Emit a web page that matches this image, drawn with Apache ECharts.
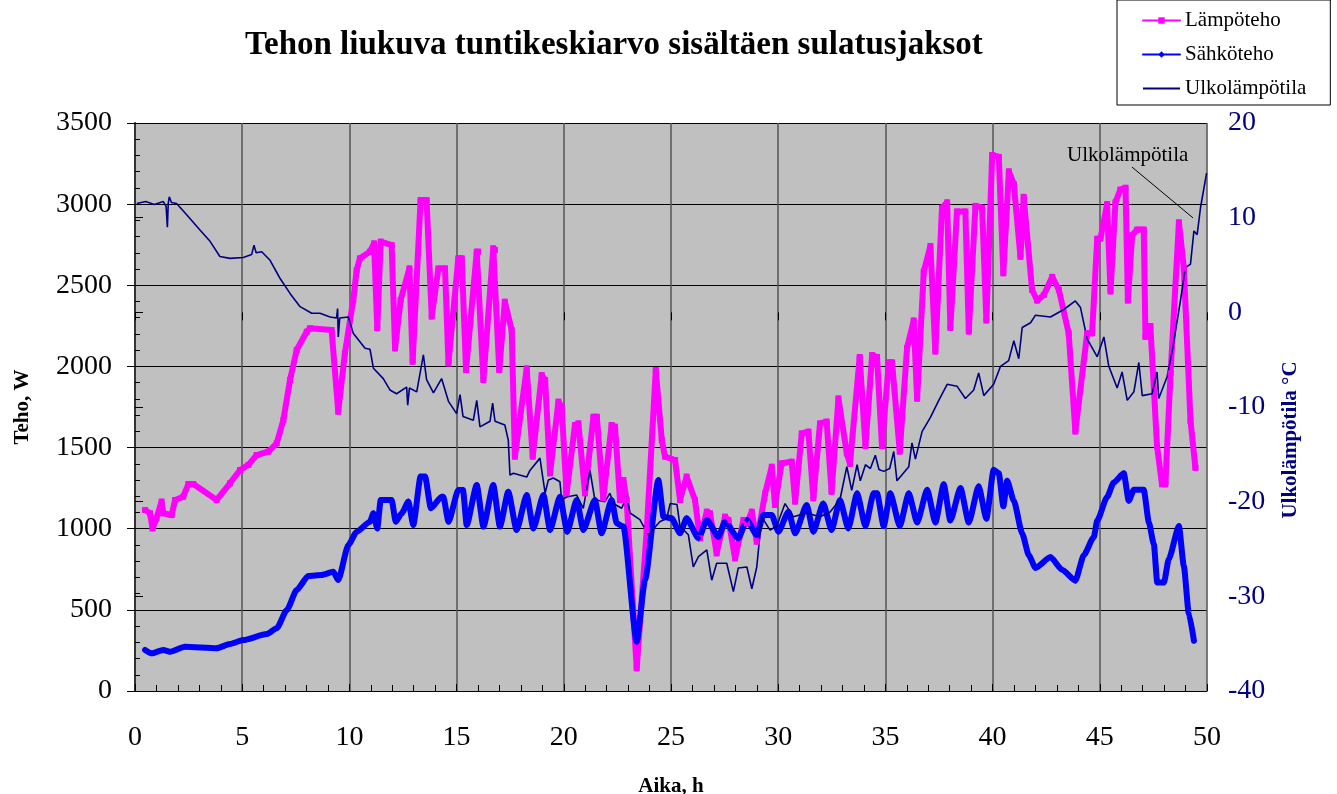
<!DOCTYPE html>
<html>
<head>
<meta charset="utf-8">
<title>Tehon liukuva tuntikeskiarvo</title>
<script src="https://cdn.jsdelivr.net/npm/echarts@6/dist/echarts.min.js"></script>
<style>
  html, body { margin: 0; padding: 0; background: #fff; }
  #chart { width: 1337px; height: 794px; }
</style>
</head>
<body>
<div id="chart"></div>
<script>
// Lämpöteho [h, W]
const lampoteho = [
  [0.47,1115],[0.7,1095],[0.82,1002],[1.0,1064],[1.24,1167],[1.32,1095],[1.71,1084],[1.87,1177],
  [2.25,1197],[2.49,1275],[2.72,1275],[3.81,1177],[4.43,1280],[4.9,1362],[5.29,1393],[5.67,1454],
  [6.22,1475],[6.61,1526],[6.92,1670],[7.23,1916],[7.54,2101],[8.01,2214],[8.16,2235],[9.17,2224],
  [9.48,1721],[9.79,2081],[10.18,2409],[10.34,2594],[10.49,2666],[10.96,2707],[11.15,2758],[11.3,2235],
  [11.46,2769],[11.97,2748],[12.13,2111],[12.39,2409],[12.8,2604],[12.95,2029],[13.32,3025],[13.6,3025],
  [13.84,2307],[14.15,2604],[14.46,2604],[14.62,2019],[15.08,2666],[15.24,2666],[15.44,1978],[15.94,2707],
  [16.01,2707],[16.25,1916],[16.71,2728],[16.79,2717],[16.99,1978],[17.25,2399],[17.57,2224],[17.72,1444],
  [18.27,1988],[18.55,1444],[18.97,1947],[19.13,1916],[19.36,1341],[19.75,1783],[19.9,1752],[20.13,1218],
  [20.52,1639],[20.68,1649],[20.99,1218],[21.38,1690],[21.54,1690],[21.84,1187],[22.23,1639],[22.39,1629],
  [22.62,1177],[22.78,1300],[22.93,1177],[23.4,140],[23.87,992],[24.29,1978],[24.57,1547],[24.72,1444],
  [25.19,1423],[25.42,1177],[25.73,1321],[26.12,1177],[26.35,941],[26.67,1105],[26.82,1095],[27.13,848],
  [27.52,1074],[27.68,1054],[27.99,817],[28.38,1054],[28.54,1033],[28.77,1105],[29.0,920],[29.39,1218],
  [29.7,1382],[29.85,1146],[30.16,1403],[30.63,1413],[30.79,1167],[31.1,1588],[31.41,1598],[31.64,1187],
  [31.95,1649],[32.26,1660],[32.49,1228],[32.81,1803],[33.2,1464],[33.35,1400],[33.8,2058],[34.07,1509],
  [34.38,2070],[34.61,2058],[34.84,1509],[35.16,2025],[35.31,2025],[35.67,1475],[36.01,2114],[36.32,2283],
  [36.48,1801],[36.79,2585],[37.1,2742],[37.33,2092],[37.64,2978],[37.88,3011],[38.03,2238],[38.34,2955],
  [38.73,2955],[38.89,2215],[39.2,2989],[39.51,2978],[39.71,2283],[39.98,3303],[40.29,3291],[40.5,2574],
  [40.76,3202],[40.99,3123],[41.3,2675],[41.45,3045],[41.84,2473],[42.08,2406],[42.39,2440],[42.78,2552],
  [43.09,2473],[43.55,2204],[43.86,1599],[44.41,2204],[44.64,2204],[44.88,2787],[45.03,2787],[45.34,3000],
  [45.5,2462],[45.73,3011],[45.96,3090],[46.2,3101],[46.31,2406],[46.51,2809],[46.74,2843],[47.05,2843],
  [47.13,2182],[47.36,2249],[47.67,1509],[47.9,1274],[48.06,1274],[48.3,1957],[48.69,2888],[48.92,2608],
  [49.23,1666],[49.46,1375]
];

// Sähköteho [h, W]
const sahkoteho = [
  [0.47,253],[0.78,232],[1.32,253],[1.63,242],[2.33,273],[3.81,263],[4.43,290],[5.05,314],
  [6.14,351],[6.61,386],[7.08,499],[7.54,622],[8.08,709],[8.71,715],[9.25,735],[9.48,684],
  [9.95,900],[10.34,982],[10.96,1043],[11.12,1095],[11.3,1002],[11.46,1177],[11.97,1177],[12.16,1043],
  [12.44,1095],[12.75,1167],[12.98,1023],[13.32,1321],[13.53,1321],[13.8,1126],[14.3,1197],[14.38,1197],
  [14.62,1043],[15.08,1238],[15.3,1238],[15.47,1023],[15.94,1269],[16.25,1013],[16.71,1269],[17.02,1013],
  [17.41,1228],[17.8,992],[18.27,1208],[18.58,1002],[19.05,1208],[19.36,992],[19.82,1197],[20.16,982],
  [20.6,1177],[20.91,992],[21.45,1177],[21.76,972],[22.23,1177],[22.47,1033],[22.78,1013],[23.4,304],
  [23.79,684],[24.41,1300],[24.65,1074],[25.03,1064],[25.42,972],[25.73,1064],[26.28,941],[26.67,1054],
  [27.21,951],[27.52,1043],[28.14,941],[28.54,1054],[29.0,961],[29.31,1084],[29.7,1084],[30.01,982],
  [30.48,1105],[30.79,972],[31.33,1146],[31.64,982],[32.1,1156],[32.49,992],[32.88,1177],[33.27,1002],
  [33.68,1218],[34.07,1016],[34.45,1218],[34.61,1218],[34.92,1016],[35.23,1218],[35.67,1016],[36.09,1218],
  [36.48,1038],[36.95,1240],[37.33,1038],[37.72,1274],[38.03,1050],[38.5,1251],[38.89,1038],[39.35,1262],
  [39.71,1061],[40.05,1363],[40.29,1341],[40.5,1139],[40.68,1296],[40.99,1173],[41.38,971],[41.69,836],
  [42.0,758],[42.7,825],[43.24,747],[43.86,680],[44.25,836],[44.72,948],[44.88,1050],[45.34,1195],
  [45.65,1285],[46.12,1341],[46.35,1173],[46.59,1240],[47.05,1240],[47.29,1038],[47.52,904],[47.68,668],
  [47.99,668],[48.22,814],[48.69,1016],[48.92,769],[49.15,478],[49.39,310]
];

// Ulkolämpötila [h, °C]
const ulkolampotila = [
  [0.08,11.5],[0.5,11.7],[0.9,11.4],[1.32,11.7],[1.45,11.2],[1.51,9.0],[1.55,11.5],[1.6,12.2],
  [1.7,11.6],[1.94,11.5],[2.41,10.3],[3.03,8.7],[3.5,7.5],[3.96,5.9],[4.43,5.7],[5.05,5.8],
  [5.44,6.1],[5.55,7.1],[5.65,6.3],[5.91,6.4],[6.3,5.5],[6.76,3.6],[7.23,2.0],[7.7,0.6],
  [8.24,-0.1],[8.63,-0.1],[9.1,-0.5],[9.4,-0.6],[9.45,0.4],[9.48,-2.6],[9.55,-0.6],[9.95,-0.5],
  [10.18,-2.2],[10.73,-3.8],[10.96,-3.9],[11.12,-5.9],[11.58,-7.0],[11.89,-8.2],[12.2,-8.6],[12.67,-7.9],
  [12.72,-9.8],[12.8,-8.0],[13.14,-8.4],[13.45,-4.5],[13.6,-7.1],[13.92,-8.5],[14.3,-7.0],[14.62,-9.4],
  [15.0,-10.7],[15.16,-8.7],[15.3,-11.0],[15.39,-11.2],[15.78,-11.4],[15.94,-9.3],[16.09,-12.1],[16.56,-11.5],
  [16.68,-9.6],[16.79,-11.5],[17.25,-11.9],[17.41,-13.5],[17.49,-17.2],[17.65,-17.0],[18.27,-17.4],[18.42,-16.7],
  [18.89,-15.4],[18.97,-16.7],[19.13,-19.1],[19.28,-17.7],[19.51,-17.5],[19.82,-17.9],[19.9,-19.8],[20.13,-19.5],
  [20.6,-19.3],[20.91,-20.7],[21.22,-16.7],[21.45,-19.8],[21.92,-20.0],[22.15,-19.1],[22.31,-20.2],[22.7,-20.7],
  [22.93,-19.5],[23.09,-21.2],[23.55,-21.9],[23.94,-23.5],[24.49,-22.1],[24.8,-21.8],[24.96,-20.2],[25.28,-20.3],
  [25.42,-22.6],[25.81,-23.5],[26.04,-26.9],[26.28,-25.8],[26.67,-25.1],[26.9,-28.3],[27.13,-26.5],[27.6,-26.5],
  [27.91,-29.5],[28.14,-27.0],[28.54,-26.9],[28.77,-29.2],[29.0,-26.9],[29.23,-21.6],[29.62,-23.0],[29.93,-22.6],
  [30.32,-20.2],[30.71,-21.6],[31.33,-21.2],[31.95,-21.6],[32.42,-21.1],[32.88,-19.8],[33.2,-16.3],[33.43,-18.8],
  [33.68,-16.1],[33.83,-17.8],[34.07,-16.1],[34.3,-16.5],[34.53,-15.1],[34.7,-16.6],[34.92,-16.8],[35.2,-16.5],
  [35.39,-14.7],[35.54,-17.8],[36.09,-16.3],[36.24,-13.8],[36.4,-15.5],[36.71,-12.6],[37.1,-11.1],[37.49,-9.3],
  [37.88,-7.6],[38.34,-7.8],[38.73,-9.1],[39.12,-8.2],[39.35,-6.4],[39.59,-8.8],[40.05,-7.6],[40.37,-5.7],
  [40.75,-5.1],[40.99,-3.0],[41.22,-4.9],[41.38,-1.6],[41.77,-1.1],[42.0,-0.3],[42.7,-0.5],[43.32,0.3],
  [43.86,1.2],[44.1,0.5],[44.41,-2.8],[44.88,-4.7],[45.19,-2.6],[45.42,-5.7],[45.81,-8.0],[46.04,-6.3],
  [46.28,-9.3],[46.59,-8.4],[46.82,-5.3],[46.98,-8.8],[47.44,-8.6],[47.67,-6.3],[47.75,-9.1],[48.14,-6.8],
  [48.38,-4.1],[48.76,1.2],[48.99,4.7],[49.23,5.1],[49.39,8.6],[49.54,8.2],[49.7,11.1],[49.98,14.7]
];

// nuoliviiva ja teksti (h, °C)
const noteLine = [[46.5, 15.35], [49.35, 9.97]];
const noteText = [46.3, 16.6];

const font = '"Liberation Serif", "Times New Roman", serif';

const chart = echarts.init(document.getElementById('chart'));

chart.setOption({
  animation: false,
  backgroundColor: '#fff',
  title: {
    text: 'Tehon liukuva tuntikeskiarvo sisältäen sulatusjaksot',
    left: 240,
    top: 24,
    textStyle: { fontFamily: font, fontSize: 33, fontWeight: 'bold', color: '#000' }
  },
  legend: {
    orient: 'vertical',
    left: 1117,
    top: 0,
    backgroundColor: '#fff',
    borderColor: '#000',
    borderWidth: 1,
    padding: [10, 24, 6, 25],
    itemWidth: 37,
    itemHeight: 8,
    itemGap: 13,
    lineStyle: { width: 2 },
    textStyle: { fontFamily: font, fontSize: 21, color: '#000' },
    data: [
      { name: 'Lämpöteho' },
      { name: 'Sähköteho' },
      { name: 'Ulkolämpötila', itemStyle: { opacity: 0 } }
    ]
  },
  grid: {
    left: 135, right: 130, top: 123, bottom: 103,
    outerBoundsMode: 'none',
    show: true, backgroundColor: '#C0C0C0', borderWidth: 0
  },
  xAxis: [
    {
      type: 'value', min: 0, max: 50, interval: 5,
      name: 'Aika, h', nameLocation: 'middle', nameGap: 85,
      nameTextStyle: { fontFamily: font, fontSize: 21, fontWeight: 'bold', color: '#000' },
      axisLine: { lineStyle: { color: '#000', width: 1 } },
      axisTick: { inside: true, length: 7, lineStyle: { color: '#000' } },
      minorTick: { show: true, splitNumber: 5, length: 6, lineStyle: { color: '#000' } },
      splitLine: { show: true, lineStyle: { color: '#555', width: 1.5 } },
      axisLabel: { fontFamily: font, fontSize: 28, color: '#000', margin: 33 }
    },
    {
      type: 'value', min: 0, max: 50, interval: 5, position: 'bottom',
      axisLine: { show: false },
      axisTick: { show: true, length: 8, lineStyle: { color: '#000' } },
      axisLabel: { show: false },
      splitLine: { show: false }
    }
  ],
  yAxis: [
    {
      type: 'value', min: 0, max: 3500, interval: 500, position: 'left',
      name: 'Teho, W', nameLocation: 'middle', nameGap: 102,
      nameTextStyle: { fontFamily: font, fontSize: 21, fontWeight: 'bold', color: '#000' },
      axisLine: { show: true, lineStyle: { color: '#000', width: 1 } },
      axisTick: { show: true, inside: true, length: 6, lineStyle: { color: '#000' } },
      minorTick: { show: true, splitNumber: 5, length: 5, lineStyle: { color: '#000' } },
      splitLine: { show: true, lineStyle: { color: '#000', width: 1 } },
      axisLabel: {
        fontFamily: font, fontSize: 28, color: '#000', margin: 23,
        formatter: v => String(v)
      }
    },
    {
      type: 'value', min: -40, max: 20, interval: 10, position: 'right',
      name: 'Ulkolämpötila °C', nameLocation: 'middle', nameGap: 73,
      nameTextStyle: {
        fontFamily: font, fontSize: 21, fontWeight: 'bold', color: '#000080',
        padding: [0, 66, 0, 0]
      },
      axisLine: { show: true, lineStyle: { color: '#333', width: 2 } },
      axisTick: { show: true, length: 8, lineStyle: { color: '#000' } },
      splitLine: { show: false },
      axisLabel: { fontFamily: font, fontSize: 28, color: '#000080', margin: 21 }
    },
    {
      type: 'value', min: 0, max: 3500, interval: 500, position: 'left',
      axisLine: { show: false },
      axisTick: { show: true, length: 8, lineStyle: { color: '#000' } },
      axisLabel: { show: false },
      splitLine: { show: false }
    }
  ],
  series: [
    {
      name: 'Lämpöteho', type: 'line', xAxisIndex: 0, yAxisIndex: 0,
      data: lampoteho,
      symbol: 'rect', symbolSize: 6,
      lineStyle: { color: '#FF00FF', width: 6, join: 'round', cap: 'round' },
      itemStyle: { color: '#FF00FF' }
    },
    {
      name: 'Sähköteho', type: 'line', xAxisIndex: 0, yAxisIndex: 0,
      data: sahkoteho,
      symbol: 'diamond', symbolSize: 6,
      smooth: 0.2, smoothMonotone: 'x',
      lineStyle: { color: '#0000FF', width: 6, join: 'round', cap: 'round' },
      itemStyle: { color: '#0000FF' }
    },
    {
      name: 'Ulkolämpötila', type: 'line', xAxisIndex: 0, yAxisIndex: 1,
      data: ulkolampotila,
      symbol: 'none',
      lineStyle: { color: '#000080', width: 1.6 },
      itemStyle: { color: '#000080' },
      markLine: {
        silent: true, animation: false,
        symbol: ['none', 'none'],
        lineStyle: { color: '#000', width: 1, type: 'solid' },
        label: { show: false },
        data: [[{ coord: noteLine[0] }, { coord: noteLine[1] }]]
      },
      markPoint: {
        silent: true, animation: false,
        symbol: 'rect', symbolSize: 1,
        itemStyle: { color: 'rgba(0,0,0,0)' },
        label: {
          show: true, position: 'inside', formatter: 'Ulkolämpötila',
          fontFamily: font, fontSize: 21, color: '#000'
        },
        data: [{ coord: noteText }]
      }
    }
  ]
});
</script>
</body>
</html>
